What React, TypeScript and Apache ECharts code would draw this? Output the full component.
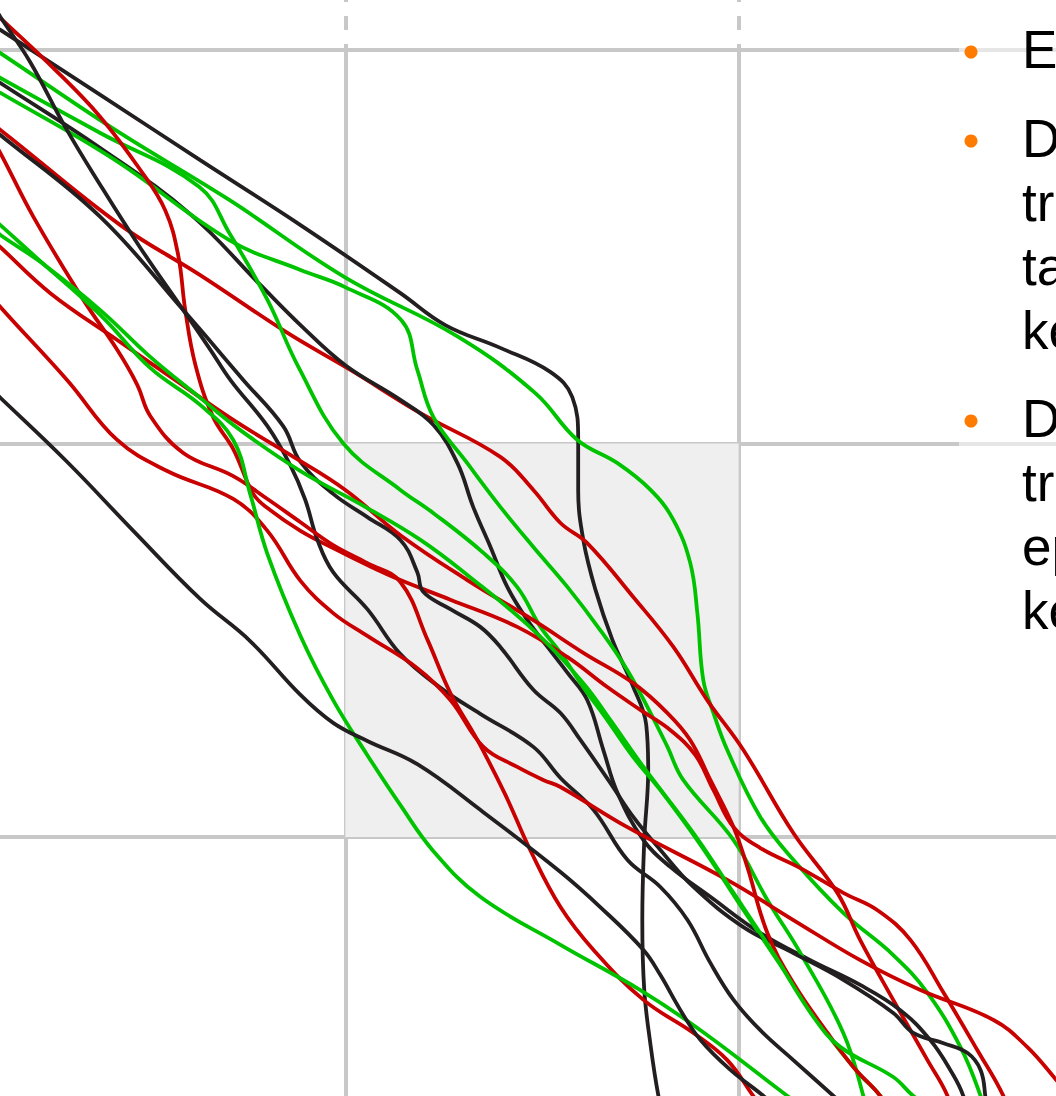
import React, { useEffect, useRef } from "react";
import * as echarts from "echarts";

// Colours
const BLACK = "#231f20";
const RED = "#c80000";
const GREEN = "#00c300";
const GRID_GREY = "#c8c8c8";
const CELL_FILL = "#efefef";
const BULLET = "#ff7a00";

// Axis extents (one grid cell = 100 units)
const X_RANGE = [0, 300];
const Y_RANGE = [0, 300];
const GRID_STEP = 100;

// Highlighted cell of the grid
const SHADED_X = [100, 200];
const SHADED_Y = [100, 200];

type Pt = [number, number];

// Trajectories, [x, y] in grid units
const black1: Pt[] = [
  [2.1, 311.7], [12.3, 305.1], [37.7, 288.6], [63.1, 272.0], [88.6, 255.5], [114.0, 238.2],
  [125.4, 230.1], [139.4, 224.3], [152.1, 218.2], [157.7, 211.8], [159.2, 200.9], [159.2, 188.2],
  [160.5, 175.5], [163.6, 162.8], [167.9, 150.1], [173.0, 138.6], [176.5, 128.5], [177.0, 117.0],
  [176.0, 99.2], [175.5, 78.9], [176.0, 61.1], [177.6, 47.1], [179.6, 34.2], [182.1, 23.0],
];
const green1: Pt[] = [
  [2.1, 305.8], [12.3, 299.2], [41.5, 279.7], [70.5, 261.9], [99.8, 242.3], [128.7, 227.1],
  [148.3, 212.8], [159.0, 200.9], [169.2, 195.0], [177.6, 188.2], [183.4, 180.6], [187.7, 169.6],
  [189.5, 156.9], [191.0, 139.9], [193.6, 131.5], [197.1, 122.1], [205.5, 105.1], [213.9, 94.2],
  [226.6, 80.7], [239.3, 70.0], [248.0, 60.4], [256.4, 46.6], [261.5, 34.2], [264.0, 25.5],
];
const red2: Pt[] = [
  [2.1, 287.3], [12.3, 279.7], [42.8, 255.5], [63.1, 242.8], [85.3, 228.1], [101.3, 218.7],
  [119.1, 207.7], [139.4, 196.6], [147.8, 188.2], [154.7, 179.8], [161.5, 174.7], [173.2, 161.0],
  [183.4, 148.3], [192.0, 134.8], [201.2, 122.1], [213.9, 101.0], [225.1, 85.8], [230.9, 73.8],
  [239.3, 58.6], [248.0, 43.3], [253.1, 34.2], [255.6, 25.5],
];
const black3: Pt[] = [
  [2.1, 298.2], [12.3, 291.6], [37.7, 275.1], [60.8, 258.1], [78.4, 240.3], [88.6, 230.1],
  [100.0, 219.9], [114.0, 211.1], [122.4, 204.7], [128.5, 195.0], [132.5, 183.9], [136.9, 173.7],
  [141.2, 163.5], [146.3, 155.1], [151.4, 148.3], [156.5, 141.7], [161.5, 134.8], [165.6, 122.1],
  [169.2, 111.2], [175.8, 99.2], [182.6, 92.4], [192.8, 84.8], [205.5, 75.6], [218.2, 68.7],
  [230.9, 62.4], [241.1, 56.0], [248.7, 48.4], [253.8, 40.8], [257.1, 34.2], [258.9, 25.5],
];
const green3: Pt[] = [
  [2.1, 294.9], [12.3, 289.1], [41.5, 272.0], [70.5, 251.7], [88.6, 244.1], [99.8, 239.8],
  [114.2, 231.4], [118.3, 218.7], [122.4, 206.7], [131.0, 195.0], [139.4, 183.9], [147.8, 173.7],
  [156.5, 163.5], [164.8, 152.6], [171.7, 142.4], [177.6, 131.5], [181.9, 122.9], [185.9, 114.5],
  [198.7, 99.2], [207.3, 84.0], [215.7, 70.5], [226.6, 50.2], [231.7, 34.2], [233.5, 25.5],
];
const green2: Pt[] = [
  [2.1, 298.7], [12.3, 292.9], [37.7, 278.9], [62.9, 265.2], [70.5, 253.5], [80.2, 236.5],
  [88.1, 219.4], [99.5, 200.0], [114.0, 188.2], [122.4, 182.3], [135.1, 172.2], [143.7, 163.5],
  [149.6, 153.4], [154.7, 146.8], [160.5, 138.1], [166.6, 129.7], [173.2, 120.3], [180.1, 111.9],
  [190.3, 98.0], [200.4, 82.7], [210.6, 67.5], [220.8, 52.2], [230.9, 39.5], [236.0, 34.2],
  [238.6, 28.1],
];
const red1: Pt[] = [
  [4.7, 315.2], [12.3, 308.1], [26.3, 294.9], [37.7, 283.0], [47.9, 269.5], [54.2, 259.3],
  [57.5, 247.9], [59.3, 233.9], [61.9, 219.9], [66.4, 206.7], [71.5, 198.6], [76.6, 187.2],
  [80.2, 183.6], [88.6, 177.8], [96.9, 173.4], [105.6, 169.1], [114.0, 165.3], [126.7, 160.3],
  [143.7, 153.4], [156.5, 145.7], [166.6, 138.1], [175.0, 132.3], [182.6, 127.2], [189.0, 120.8],
  [193.6, 111.9], [198.7, 102.5], [205.5, 97.2], [215.7, 92.1], [226.6, 85.8], [235.3, 81.4],
  [243.7, 73.8], [252.1, 60.4], [260.7, 45.8], [267.3, 34.2], [270.4, 25.5],
];
const black2: Pt[] = [
  [7.2, 316.5], [12.3, 308.4], [19.9, 296.9], [28.8, 280.4], [37.7, 265.7], [47.9, 249.7],
  [58.8, 233.9], [65.7, 223.8], [70.8, 216.1], [80.2, 204.4], [86.0, 194.5], [89.8, 185.7],
  [92.9, 175.5], [96.9, 167.3], [105.6, 157.9], [114.0, 146.5], [124.2, 137.9], [134.3, 131.3],
  [147.8, 122.9], [154.7, 115.0], [163.1, 106.9], [171.7, 94.2], [180.1, 87.3], [187.0, 78.9],
  [192.8, 68.0], [198.7, 58.6], [205.5, 50.9], [213.9, 43.3], [224.1, 34.2], [230.9, 28.1],
];
const black4: Pt[] = [
  [2.1, 286.5], [12.3, 278.4], [37.7, 257.6], [58.8, 233.9], [74.1, 216.1], [84.2, 204.4],
  [88.6, 195.3], [96.9, 187.2], [105.6, 181.3], [114.0, 175.5], [118.3, 167.3], [119.8, 162.3],
  [126.7, 157.9], [134.3, 153.4], [139.4, 148.3], [147.8, 137.4], [154.7, 131.5], [159.8, 124.6],
  [167.4, 113.7], [173.2, 105.1], [180.1, 96.7], [188.5, 87.3], [201.2, 77.1], [213.9, 70.5],
  [226.6, 63.7], [239.3, 55.3], [244.4, 50.2], [252.1, 47.6], [258.2, 45.1], [261.5, 40.8],
  [262.7, 34.2], [263.5, 25.5],
];
const red3: Pt[] = [
  [4.7, 287.3], [12.3, 273.8], [20.7, 257.6], [33.4, 236.5], [42.0, 223.8], [47.1, 214.9],
  [50.4, 207.0], [58.8, 197.6], [71.5, 191.7], [80.2, 185.9], [88.6, 180.0], [96.9, 174.2],
  [105.6, 169.6], [114.0, 164.8], [120.9, 150.1], [126.7, 136.6], [133.6, 124.6], [140.7, 110.7],
  [147.0, 96.7], [154.7, 82.2], [163.1, 71.3], [175.8, 58.6], [188.5, 50.2], [197.1, 43.3],
  [203.7, 34.2], [208.1, 28.1],
];
const red4: Pt[] = [
  [2.1, 259.3], [12.3, 249.9], [25.0, 238.2], [42.0, 226.3], [56.8, 216.1], [71.5, 206.0],
  [86.0, 197.1], [100.0, 188.2], [114.0, 176.7], [131.0, 165.3], [147.8, 155.1], [160.5, 146.8],
  [173.2, 139.1], [181.9, 131.5], [187.7, 124.6], [192.8, 114.5], [198.7, 102.5], [202.2, 92.4],
  [207.3, 75.6], [213.9, 62.9], [222.6, 50.2], [229.2, 41.5], [236.0, 34.2], [239.8, 28.1],
];
const red5: Pt[] = [
  [2.1, 246.6], [12.3, 234.7], [29.3, 216.1], [42.0, 200.9], [54.7, 193.0], [71.5, 185.9],
  [80.2, 177.8], [88.6, 165.1], [96.9, 156.9], [105.6, 151.1], [118.3, 142.9], [126.7, 134.8],
  [135.1, 122.9], [143.7, 117.8], [150.3, 114.5], [154.7, 112.7], [171.7, 102.5], [197.1, 89.1],
  [213.9, 78.9], [230.9, 68.7], [246.2, 61.1], [264.8, 53.5], [273.4, 46.6], [280.8, 38.2],
  [288.2, 29.4],
];
const green5: Pt[] = [
  [2.1, 264.4], [12.3, 255.5], [20.7, 247.9], [37.7, 232.7], [50.4, 219.2], [63.1, 209.8],
  [71.5, 200.9], [75.8, 187.2], [80.2, 171.9], [88.6, 151.1], [96.9, 134.8], [105.6, 120.8],
  [114.0, 108.1], [122.4, 96.4], [134.3, 84.8], [154.7, 72.6], [175.0, 61.1], [190.3, 50.9],
  [212.4, 34.2], [220.8, 28.1],
];
const green6: Pt[] = [
  [2.1, 260.6], [12.3, 253.0], [22.5, 246.1], [37.7, 233.9], [50.4, 222.0], [63.1, 211.6],
  [73.3, 203.4], [88.6, 193.0], [105.6, 183.6], [119.1, 175.5], [131.0, 166.6], [147.8, 152.6],
  [160.5, 139.1], [167.4, 129.7], [175.8, 117.8], [188.5, 101.0], [198.7, 85.8], [208.8, 70.5],
  [219.0, 54.3], [225.9, 46.6], [239.3, 39.0], [244.4, 34.2], [251.3, 29.4],
];
const black5: Pt[] = [
  [2.1, 221.2], [12.3, 211.6], [29.3, 195.3], [46.1, 177.8], [63.1, 160.5], [75.8, 149.8],
  [88.6, 136.1], [96.9, 129.0], [105.6, 124.4], [118.3, 118.5], [134.3, 106.9], [154.7, 91.1],
  [164.8, 82.2], [175.8, 71.3], [180.1, 64.9], [185.2, 56.0], [190.3, 48.4], [197.9, 40.8],
  [206.3, 34.2], [213.2, 28.1],
];

const TRACES: { data: Pt[]; color: string }[] = [
  { data: black1, color: BLACK },
  { data: green1, color: GREEN },
  { data: red2, color: RED },
  { data: black3, color: BLACK },
  { data: green3, color: GREEN },
  { data: green2, color: GREEN },
  { data: red1, color: RED },
  { data: black2, color: BLACK },
  { data: black4, color: BLACK },
  { data: red3, color: RED },
  { data: red4, color: RED },
  { data: red5, color: RED },
  { data: green5, color: GREEN },
  { data: green6, color: GREEN },
  { data: black5, color: BLACK },
];

// Side notes (each inner array is one bullet, split into its lines)
const NOTES: string[][] = [
  ["Early stopping"],
  ["Dropout regularises", "training by randomly", "taking units out, which", "keeps weights small"],
  ["Data augmentation", "transforms samples each", "epoch, which often", "keeps variance low"],
];

const FONT = '"Liberation Sans", Arial, Helvetica, sans-serif';

// The plot canvas is wider than the window: the first grid column starts left of it
const CANVAS_SHIFT = 48;
const CANVAS_W = 1180;
const CANVAS_H = 1231;

export default function App() {
  const ref = useRef<HTMLDivElement>(null);

  useEffect(() => {
    if (!ref.current) return;
    const chart = echarts.init(ref.current, null, { renderer: "svg" });

    const hiddenAxisParts = {
      axisLine: { show: false },
      axisTick: { show: false },
      axisLabel: { show: false },
    };

    const lineSeries = TRACES.map((t, i) => ({
      type: "line",
      xAxisIndex: 0,
      yAxisIndex: 0,
      data: t.data,
      smooth: 0.4,
      symbol: "none",
      showSymbol: false,
      clip: false,
      silent: true,
      z: 3 + i * 0.01,
      lineStyle: { color: t.color, width: 3.8 },
    }));

    // Notes panel: bullets and text lines
    const px = (v: number) => v + CANVAS_SHIFT;
    const graphics: any[] = [
      {
        type: "rect",
        shape: { x: px(959), y: 0, width: 160, height: 720 },
        style: { fill: "rgba(255,255,255,0.55)" },
        silent: true,
        z: 50,
      },
    ];
    const lineGap = 64;
    let y = 49;
    NOTES.forEach((lines, bi) => {
      graphics.push({
        type: "circle",
        shape: { cx: px(971), cy: y + 3, r: 6.5 },
        style: { fill: BULLET },
        z: 60,
      });
      lines.forEach((txt, li) => {
        graphics.push({
          type: "text",
          x: px(1022),
          y: y + li * lineGap,
          style: {
            text: txt,
            fill: "#000000",
            fontSize: 53,
            fontFamily: FONT,
            verticalAlign: "middle",
            align: "left",
          },
          z: 60,
        });
      });
      y += (lines.length - 1) * lineGap + (bi === 0 ? 89 : 88);
    });

    chart.setOption({
      animation: false,
      backgroundColor: "#ffffff",
      grid: [
        { left: 0, top: 50, width: 1180, height: 1180.5 },
        { left: 0, top: 0, width: 1180, height: 50 },
      ],
      xAxis: [
        {
          gridIndex: 0,
          type: "value",
          min: X_RANGE[0],
          max: X_RANGE[1],
          interval: GRID_STEP,
          ...hiddenAxisParts,
          splitLine: { show: true, lineStyle: { color: GRID_GREY, width: 4 } },
        },
        {
          gridIndex: 1,
          type: "value",
          min: X_RANGE[0],
          max: X_RANGE[1],
          interval: GRID_STEP,
          ...hiddenAxisParts,
          splitLine: {
            show: true,
            lineStyle: { color: GRID_GREY, width: 4, type: [14, 14], dashOffset: 12 },
          },
        },
      ],
      yAxis: [
        {
          gridIndex: 0,
          type: "value",
          min: Y_RANGE[0],
          max: Y_RANGE[1],
          interval: GRID_STEP,
          ...hiddenAxisParts,
          splitLine: { show: true, lineStyle: { color: GRID_GREY, width: 4 } },
        },
        {
          gridIndex: 1,
          type: "value",
          min: 0,
          max: 1,
          show: false,
          splitLine: { show: false },
        },
      ],
      series: [
        {
          type: "line",
          xAxisIndex: 0,
          yAxisIndex: 0,
          data: [],
          silent: true,
          z: -1,
          markArea: {
            silent: true,
            itemStyle: { color: CELL_FILL },
            data: [
              [
                { xAxis: SHADED_X[0], yAxis: SHADED_Y[0] },
                { xAxis: SHADED_X[1], yAxis: SHADED_Y[1] },
              ],
            ],
          },
        },
        ...lineSeries,
      ],
      graphic: graphics,
    });

    return () => chart.dispose();
  }, []);

  return (
    <div style={{ position: "fixed", left: 0, top: 0, width: 1056, height: 1096, overflow: "hidden", background: "#ffffff" }}>
      <div
        ref={ref}
        style={{ position: "absolute", left: -CANVAS_SHIFT, top: 0, width: CANVAS_W, height: CANVAS_H }}
      />
    </div>
  );
}
